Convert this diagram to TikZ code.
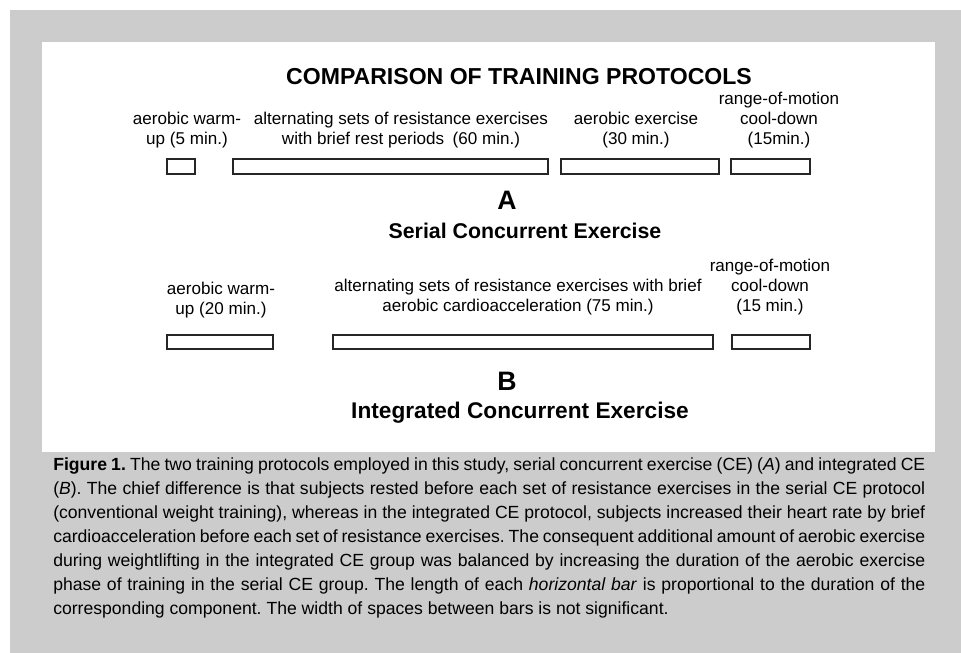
\documentclass[tikz,border=0pt]{standalone}
\usepackage{fontspec}
\setmainfont{Liberation Sans}
\hyphenpenalty=10000
\exhyphenpenalty=10000
\tolerance=10000

\begin{document}
\begin{tikzpicture}[
  x=0.75pt, y=-0.75pt,
  bar/.style={draw=black!85, line width=1.2pt, fill=white},
  lbl/.style={align=center, inner sep=0pt, font=\fontsize{12.8}{15}\selectfont},
  head/.style={inner sep=0pt, font=\fontsize{#1}{20}\selectfont\bfseries},
  letter/.style={inner sep=0pt, font=\fontsize{20}{24}\selectfont\bfseries},
  caption/.style={anchor=north west, inner sep=0pt, text width=654pt, align=justify,
    font=\fontsize{13.2}{18}\selectfont\frenchspacing}
]

% page and panel
\useasboundingbox (0,0) rectangle (961,653);
\fill[black!20] (10,10) rectangle (961,653);
\fill[white] (42,42) rectangle (935,452);

\node[head=17.3] (title) at (519,77) {COMPARISON OF TRAINING PROTOCOLS};

% Serial protocol
\node[lbl] (warmA) at (187,130) {aerobic warm-\\up (5 min.)};
\node[lbl] (resA) at (401,130) {alternating sets of resistance exercises\\with brief rest periods\enspace(60 min.)};
\node[lbl] (aerA) at (636,130) {aerobic exercise\\(30 min.)};
\node[lbl] (coolA) at (779,120) {range-of-motion\\cool-down\\(15min.)};

\draw[bar] (167,159) rectangle (195,174);
\draw[bar] (233,159) rectangle (548,174);
\draw[bar] (561,159) rectangle (719,174);
\draw[bar] (731,159) rectangle (810,174);

\node[letter] (labA) at (507,200) {A};
\node[head=16] (serial) at (525,231) {Serial Concurrent Exercise};

% Integrated protocol
\node[lbl] (warmB) at (221,300) {aerobic warm-\\up (20 min.)};
\node[lbl] (resB) at (518,297) {alternating sets of resistance exercises with brief\\aerobic cardioacceleration (75 min.)};
\node[lbl] (coolB) at (770,287) {range-of-motion\\cool-down\\(15 min.)};

\draw[bar] (167,335) rectangle (273,349);
\draw[bar] (333,335) rectangle (713,349);
\draw[bar] (732,335) rectangle (810,349);

\node[letter] (labB) at (507,381) {B};
\node[head=17] (integ) at (520,413) {Integrated Concurrent Exercise};

% caption
\node[caption] (cap) at (53,457) {%
\textbf{Figure 1.} The two training protocols employed in this study, serial concurrent exercise (CE) (\textit{A}) and integrated CE\linebreak
(\textit{B}). The chief difference is that subjects rested before each set of resistance exercises in the serial CE protocol\linebreak
(conventional weight training), whereas in the integrated CE protocol, subjects increased their heart rate by brief\linebreak
cardioacceleration before each set of resistance exercises. The consequent additional amount of aerobic exercise\linebreak
during weightlifting in the integrated CE group was balanced by increasing the duration of the aerobic exercise\linebreak
phase of training in the serial CE group. The length of each \textit{horizontal bar} is proportional to the duration of the\linebreak
corresponding component. The width of spaces between bars is not significant.};

\end{tikzpicture}
\end{document}
